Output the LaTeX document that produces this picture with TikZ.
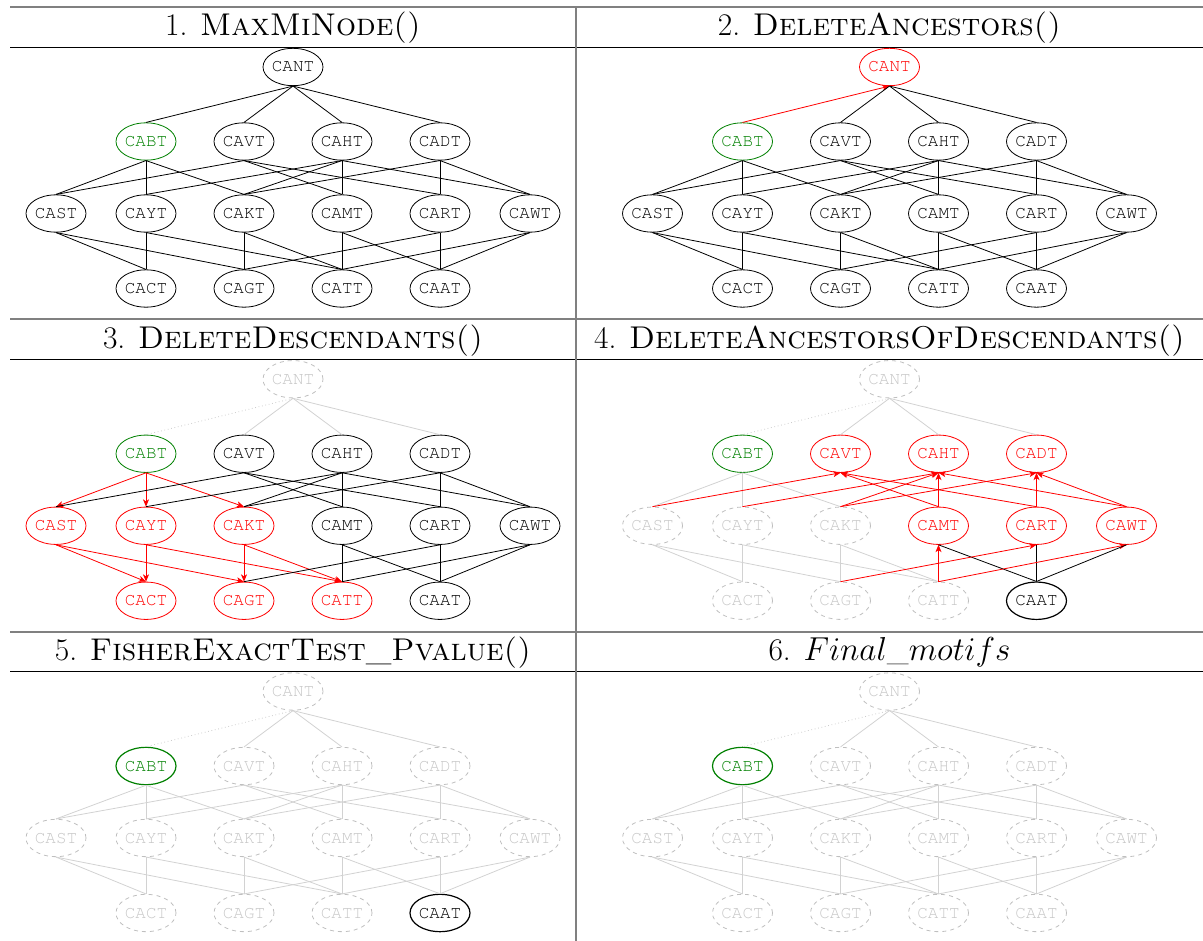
\documentclass[tikz,border=0pt]{standalone}
\usepackage{xcolor}
\usetikzlibrary{shapes.geometric,arrows.meta}

\newcommand{\cour}{\fontencoding{OT1}\fontfamily{pcr}\fontsize{13.2}{15}\selectfont}
% parent/child pairs of the lattice
\newcommand{\latedges}{CANT/CABT,CANT/CAVT,CANT/CAHT,CANT/CADT,%
CABT/CAST,CABT/CAYT,CABT/CAKT,CAVT/CAST,CAVT/CAMT,CAVT/CART,%
CAHT/CAYT,CAHT/CAKT,CAHT/CAMT,CAHT/CAWT,CADT/CAKT,CADT/CART,CADT/CAWT,%
CAST/CACT,CAST/CAGT,CAYT/CACT,CAYT/CATT,CAKT/CAGT,CAKT/CATT,%
CAMT/CATT,CAMT/CAAT,CART/CAGT,CART/CAAT,CAWT/CATT,CAWT/CAAT}

\tikzset{
  nd/.style={ellipse,draw,line width=0.6pt,inner sep=0pt,minimum width=45pt,minimum height=28pt,font=\cour},
  start/.style={solid,draw=green!50!black,text=green!50!black},
  chosen/.style={start,line width=0.9pt},
  hot/.style={solid,draw=red,text=red},
  gone/.style={dashed,draw=gray!50,text=gray!45},
  kept/.style={solid,draw=black,text=black,line width=0.9pt},
  ed/.style={line width=0.6pt},
  plain/.style={solid,draw=black},
  up/.style={solid,draw=red,{Stealth[length=5.5pt,width=4.5pt,inset=1.5pt]}-},
  down/.style={solid,draw=red,-{Stealth[length=5.5pt,width=4.5pt,inset=1.5pt]}},
  faint/.style={draw=gray!35},
  dotty/.style={draw=gray!40,dotted},
  base node/.style={},
  base edge/.style={},
  hot nodes/.style={n/#1/.style=hot},
  up edges/.style={e/#1/.style=up},
  down edges/.style={e/#1/.style=down},
  faint edges/.style={e/#1/.style=faint},
  plain edges/.style={e/#1/.style=plain},
  head/.style={anchor=base,inner sep=0pt,font=\fontsize{23.6}{28}\selectfont},
  outer rule/.style={draw=black!50,line width=1.5pt},
  head rule/.style={draw=black,line width=0.75pt}
}

\newcommand{\lattice}[1]{%
  % top
  \node[nd,base node,n/CANT/.try] (CANT#1) at (293,67) {CANT};
  % first row
  \node[nd,base node,n/CABT/.try] (CABT#1) at (146,141.5) {CABT};
  \node[nd,base node,n/CAVT/.try] (CAVT#1) at (244,141.5) {CAVT};
  \node[nd,base node,n/CAHT/.try] (CAHT#1) at (342,141.5) {CAHT};
  \node[nd,base node,n/CADT/.try] (CADT#1) at (440,141.5) {CADT};
  % second row
  \node[nd,base node,n/CAST/.try] (CAST#1) at (56,213.5) {CAST};
  \node[nd,base node,n/CAYT/.try] (CAYT#1) at (146,213.5) {CAYT};
  \node[nd,base node,n/CAKT/.try] (CAKT#1) at (244,213.5) {CAKT};
  \node[nd,base node,n/CAMT/.try] (CAMT#1) at (342,213.5) {CAMT};
  \node[nd,base node,n/CART/.try] (CART#1) at (440,213.5) {CART};
  \node[nd,base node,n/CAWT/.try] (CAWT#1) at (530,213.5) {CAWT};
  % third row
  \node[nd,base node,n/CACT/.try] (CACT#1) at (146,288.5) {CACT};
  \node[nd,base node,n/CAGT/.try] (CAGT#1) at (244,288.5) {CAGT};
  \node[nd,base node,n/CATT/.try] (CATT#1) at (342,288.5) {CATT};
  \node[nd,base node,n/CAAT/.try] (CAAT#1) at (440,288.5) {CAAT};
  % edges
  \foreach \p/\q in \latedges
    \draw[ed,base edge,e/\p/\q/.try] (\p#1.south) -- (\q#1.north);
}

\begin{document}
\begin{tikzpicture}[x=0.75pt,y=0.75pt,yscale=-1,xscale=1]
\useasboundingbox (0,0) rectangle (1203,941);

% table rules
\draw[outer rule] (10,7.5) -- (1203,7.5);
\draw[head rule] (10,47.3) -- (1203,47.3);
\draw[outer rule] (10,319.5) -- (1203,319.5);
\draw[head rule] (10,359.8) -- (1203,359.8);
\draw[outer rule] (10,631.7) -- (1203,631.7);
\draw[head rule] (10,671.8) -- (1203,671.8);
\draw[outer rule] (576,7.5) -- (576,941);

% Text Node
\node[head] (h1) at (293,36) {1. \textsc{MaxMiNode()}};
\node[head] (h2) at (889.5,36) {2. \textsc{DeleteAncestors()}};
\node[head] (h3) at (293,348.3) {3. \textsc{DeleteDescendants()}};
\node[head] (h4) at (889.5,348.3) {4. \textsc{DeleteAncestorsOfDescendants()}};
\node[head] (h5) at (293,660.5) {5. \textsc{FisherExactTest\_Pvalue()}};
\node[head] (h6) at (889.5,660.5) {6. $Final\_motifs$};

% panel 1
\begin{scope}[n/CABT/.style=start]
  \lattice{1}
\end{scope}

% panel 2
\begin{scope}[shift={(596.5,0)},n/CABT/.style=start,n/CANT/.style=hot,e/CANT/CABT/.style=up]
  \lattice{2}
\end{scope}

% panel 3
\begin{scope}[shift={(0,312.25)},n/CANT/.style=gone,n/CABT/.style=start,
  hot nodes/.list={CAST,CAYT,CAKT,CACT,CAGT,CATT},
  e/CANT/CABT/.style=dotty,faint edges/.list={CANT/CAVT,CANT/CAHT,CANT/CADT},
  down edges/.list={CABT/CAST,CABT/CAYT,CABT/CAKT,CAST/CACT,CAST/CAGT,CAYT/CACT,CAYT/CATT,CAKT/CAGT,CAKT/CATT}]
  \lattice{3}
\end{scope}

% panel 4
\begin{scope}[shift={(596.5,312.25)},base node/.style=gone,n/CABT/.style=start,n/CAAT/.style=kept,
  hot nodes/.list={CAVT,CAHT,CADT,CAMT,CART,CAWT},
  base edge/.style=faint,e/CANT/CABT/.style=dotty,
  up edges/.list={CAVT/CAST,CAVT/CAMT,CAVT/CART,CAHT/CAYT,CAHT/CAKT,CAHT/CAMT,CAHT/CAWT,CADT/CAKT,CADT/CART,CADT/CAWT,CART/CAGT,CAMT/CATT,CAWT/CATT},
  plain edges/.list={CAMT/CAAT,CART/CAAT,CAWT/CAAT}]
  \lattice{4}
\end{scope}

% panel 5
\begin{scope}[shift={(0,624.5)},base node/.style=gone,n/CABT/.style=chosen,n/CAAT/.style=kept,
  base edge/.style=faint,e/CANT/CABT/.style=dotty]
  \lattice{5}
\end{scope}

% panel 6
\begin{scope}[shift={(596.5,624.5)},base node/.style=gone,n/CABT/.style=chosen,
  base edge/.style=faint,e/CANT/CABT/.style=dotty]
  \lattice{6}
\end{scope}

\end{tikzpicture}
\end{document}
